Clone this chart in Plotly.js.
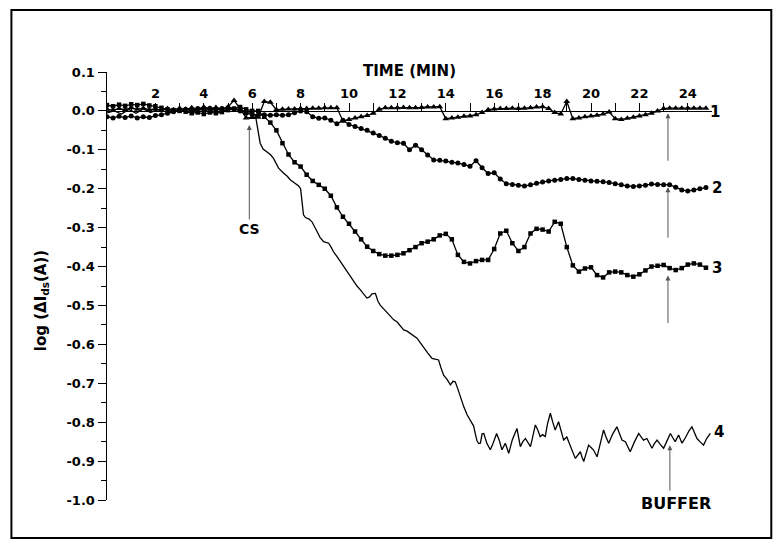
<!DOCTYPE html>
<html>
<head>
<meta charset="utf-8">
<script src="https://cdn.plot.ly/plotly-3.0.1.min.js"></script>
<style>html,body{margin:0;padding:0;background:#fff;}#chart{width:779px;height:550px;}</style>
</head>
<body>
<div id="chart"></div>
<script>
// Shared sampling time (min) for marker series 1-3
const time = [0,0.25,0.5,0.75,1,1.25,1.5,1.75,2,2.25,2.5,2.75,3,3.25,3.5,3.75,4,4.25,4.5,4.75,
  5,5.25,5.5,5.75,6,6.25,6.5,6.75,7,7.25,7.5,7.75,8,8.25,8.5,8.75,9,9.25,9.5,9.75,
  10,10.25,10.5,10.75,11,11.25,11.5,11.75,12,12.25,12.5,12.75,13,13.25,13.5,13.75,14,14.25,14.5,14.75,
  15,15.25,15.5,15.75,16,16.25,16.5,16.75,17,17.25,17.5,17.75,18,18.25,18.5,18.75,19,19.25,19.5,19.75,
  20,20.25,20.5,20.75,21,21.25,21.5,21.75,22,22.25,22.5,22.75,23,23.25,23.5,23.75,24,24.25,24.5,24.75];

// Curve 1 (triangles)
const curve1 = [0.004,0.002,0.006,0.003,0.008,0.004,0.007,0.003,0.005,0.002,0.006,0.003,0.007,0.004,0.008,0.005,0.010,0.006,0.009,0.005,
  0.010,0.027,0.005,-0.018,-0.017,-0.016,0.024,0.022,0.003,0.004,0.005,0.005,0.006,0.006,0.007,0.007,0.008,0.008,0.008,-0.026,
  -0.022,-0.018,-0.015,-0.012,-0.006,0.004,0.008,0.008,0.008,0.009,0.008,0.008,0.009,0.010,0.010,0.011,-0.020,-0.018,-0.016,-0.014,
  -0.013,-0.010,-0.004,0.003,0.005,0.006,0.006,0.007,0.006,0.007,0.008,0.010,0.011,0.006,-0.004,-0.008,0.024,-0.020,-0.018,-0.015,
  -0.013,-0.011,-0.008,-0.003,-0.020,-0.022,-0.019,-0.016,-0.013,-0.010,-0.006,0.000,0.006,0.007,0.007,0.007,0.007,0.007,0.007,0.007];

// Curve 2 (circles)
const curve2 = [-0.015,-0.018,-0.014,-0.017,-0.013,-0.018,-0.015,-0.017,-0.012,-0.010,-0.006,-0.002,0.002,0.004,0.002,0.006,0.003,0.007,0.004,0.006,
  0.008,0.005,0.000,-0.006,-0.010,-0.011,-0.010,-0.011,-0.010,-0.011,-0.010,-0.005,0.000,-0.002,-0.015,-0.019,-0.018,-0.024,-0.033,-0.024,
  -0.035,-0.040,-0.045,-0.050,-0.057,-0.063,-0.070,-0.078,-0.082,-0.083,-0.100,-0.088,-0.100,-0.113,-0.126,-0.127,-0.129,-0.132,-0.134,-0.138,
  -0.142,-0.128,-0.146,-0.161,-0.159,-0.175,-0.187,-0.189,-0.191,-0.193,-0.190,-0.186,-0.183,-0.180,-0.178,-0.176,-0.174,-0.174,-0.176,-0.178,
  -0.180,-0.181,-0.182,-0.184,-0.187,-0.190,-0.193,-0.194,-0.193,-0.191,-0.188,-0.189,-0.190,-0.190,-0.196,-0.203,-0.206,-0.203,-0.200,-0.197];

// Curve 3 (squares)
const curve3 = [0.015,0.012,0.016,0.013,0.017,0.015,0.018,0.014,0.012,0.008,0.004,0.002,0.000,-0.002,-0.006,-0.004,-0.008,-0.004,-0.006,-0.003,
  0.002,0.006,0.010,0.004,0.000,0.000,-0.015,-0.030,-0.050,-0.083,-0.112,-0.132,-0.143,-0.164,-0.180,-0.190,-0.200,-0.218,-0.248,-0.272,
  -0.290,-0.310,-0.330,-0.349,-0.360,-0.368,-0.372,-0.372,-0.370,-0.366,-0.358,-0.350,-0.340,-0.336,-0.330,-0.320,-0.316,-0.330,-0.370,-0.388,
  -0.392,-0.386,-0.383,-0.383,-0.355,-0.315,-0.308,-0.340,-0.360,-0.350,-0.315,-0.303,-0.305,-0.310,-0.285,-0.290,-0.350,-0.397,-0.413,-0.405,
  -0.402,-0.422,-0.428,-0.415,-0.413,-0.415,-0.422,-0.426,-0.420,-0.410,-0.400,-0.398,-0.396,-0.404,-0.409,-0.404,-0.395,-0.392,-0.395,-0.403];

// Curve 4 (plain line)
const time4 = [0,0.3,0.6,0.9,1.2,1.5,1.8,2.1,2.4,2.7,3.0,3.3,3.6,3.9,4.2,4.5,4.8,5.1,5.4,5.7,6.0,6.13,6.2,6.33,6.45,6.61,6.75,6.88,7.0,7.09,
  7.3,7.45,7.57,7.75,7.92,8.0,8.06,8.12,8.2,8.26,8.35,8.47,8.58,8.68,8.8,8.95,9.05,9.16,9.26,9.36,9.5,9.64,9.78,9.92,10.05,10.19,10.33,10.47,10.6,10.74,
  10.85,10.95,11.09,11.2,11.29,11.5,11.7,11.85,11.98,12.1,12.26,12.4,12.53,12.67,12.81,12.95,13.08,13.25,13.43,13.55,13.7,13.8,13.91,14.05,14.19,14.3,14.39,14.5,14.6,14.74,
  14.88,15.0,15.08,15.15,15.22,15.29,15.36,15.43,15.5,15.57,15.7,15.84,15.95,16.1,16.2,16.32,16.46,16.6,16.75,16.94,17.08,17.18,17.29,17.4,17.5,17.6,17.7,17.8,17.9,18.0,
  18.11,18.2,18.32,18.42,18.52,18.66,18.77,18.87,19.0,19.15,19.25,19.35,19.45,19.56,19.63,19.7,19.8,19.9,20.0,20.1,20.25,20.38,20.52,20.62,20.73,20.9,21.07,21.18,21.28,21.42,
  21.52,21.62,21.8,21.97,22.07,22.17,22.31,22.42,22.52,22.62,22.73,22.86,23.0,23.14,23.28,23.38,23.48,23.62,23.76,23.9,24.05,24.17,24.28,24.38,24.5,24.65,24.78,24.93];
const curve4 = [-0.005,0.000,-0.008,0.004,-0.006,0.005,-0.004,0.003,-0.002,0.004,-0.003,0.005,0.000,0.006,-0.002,0.005,0.000,0.008,0.004,0.000,-0.005,-0.010,-0.040,-0.083,-0.098,-0.105,-0.112,-0.122,-0.135,-0.147,
  -0.160,-0.168,-0.177,-0.185,-0.193,-0.200,-0.229,-0.267,-0.274,-0.276,-0.278,-0.285,-0.300,-0.310,-0.325,-0.336,-0.338,-0.340,-0.350,-0.362,-0.374,-0.387,-0.400,-0.413,-0.426,-0.439,-0.450,-0.460,-0.470,-0.481,
  -0.478,-0.470,-0.469,-0.490,-0.499,-0.514,-0.529,-0.537,-0.542,-0.550,-0.563,-0.566,-0.571,-0.577,-0.584,-0.596,-0.606,-0.622,-0.636,-0.638,-0.640,-0.660,-0.679,-0.690,-0.704,-0.695,-0.696,-0.715,-0.734,-0.760,
  -0.781,-0.795,-0.803,-0.810,-0.830,-0.848,-0.855,-0.854,-0.830,-0.829,-0.855,-0.871,-0.855,-0.829,-0.845,-0.871,-0.854,-0.880,-0.845,-0.816,-0.863,-0.850,-0.842,-0.855,-0.863,-0.835,-0.807,-0.820,-0.837,-0.832,
  -0.837,-0.805,-0.777,-0.800,-0.820,-0.799,-0.825,-0.846,-0.838,-0.863,-0.878,-0.893,-0.885,-0.876,-0.890,-0.901,-0.880,-0.859,-0.865,-0.871,-0.889,-0.855,-0.820,-0.838,-0.854,-0.830,-0.812,-0.830,-0.846,-0.850,
  -0.865,-0.876,-0.850,-0.829,-0.838,-0.846,-0.842,-0.855,-0.867,-0.855,-0.846,-0.857,-0.867,-0.848,-0.829,-0.840,-0.850,-0.833,-0.854,-0.840,-0.822,-0.812,-0.830,-0.842,-0.850,-0.859,-0.842,-0.829];

// Axis ticks
const xTickVals = [1,2,3,4,5,6,7,8,9,10,11,12,13,14,15,16,17,18,19,20,21,22,23,24];
const xTickText = ['','2','','4','','6','','8','','10','','12','','14','','16','','18','','20','','22','','24'];
const yTickVals = [0.1,0,-0.1,-0.2,-0.3,-0.4,-0.5,-0.6,-0.7,-0.8,-0.9,-1.0];
const yTickText = ['0.1','0.0','-0.1','-0.2','-0.3','-0.4','-0.5','-0.6','-0.7','-0.8','-0.9','-1.0'];
const yMinorVals = [0.05,-0.05,-0.15,-0.25,-0.35,-0.45,-0.55,-0.65,-0.75,-0.85,-0.95];

// Curve labels (y in data units, x as fraction of plot width) and arrows (data coordinates)
const curveNames = ['1','2','3','4'];
const curveLabelX = [1.0055,1.0075,1.0075,1.0115];
const curveLabelY = [-0.002,-0.199,-0.404,-0.824];
const arrowX = [23.18,23.18,23.18,23.26];
const arrowY = [-0.006,-0.196,-0.423,-0.859];
const arrowLen = [49,52,49,47];

const FONT = 'DejaVu Sans, Liberation Sans, Arial, sans-serif';
const line = {color:'#000', width:1.3};

const traces = [
  {x: time, y: curve1, mode:'lines+markers', name:'1', line: line,
   marker:{symbol:'triangle-up', size:6, color:'#000'}},
  {x: time, y: curve2, mode:'lines+markers', name:'2', line: line,
   marker:{symbol:'circle', size:5, color:'#000'}},
  {x: time, y: curve3, mode:'lines+markers', name:'3', line: line,
   marker:{symbol:'square', size:4.5, color:'#000'}},
  {x: time4, y: curve4, mode:'lines', name:'4', line: line}
];

const annotations = [];
curveNames.forEach((n,i) => annotations.push({
  x: curveLabelX[i], y: curveLabelY[i], xref:'paper', yref:'y', text: n, showarrow:false,
  font:{family:FONT, size:15, color:'#000', weight:'bold'}, xanchor:'center', yanchor:'middle'
}));
arrowX.forEach((ax,i) => annotations.push({
  x: ax, y: arrowY[i], xref:'x', yref:'y', text:'', showarrow:true, ax:0, ay: arrowLen[i],
  arrowhead:2, arrowsize:1, arrowwidth:1, arrowcolor:'#555'
}));
annotations.push({x:5.88, y:-0.036, xref:'x', yref:'y', text:'CS', showarrow:true, ax:0, ay:104,
  arrowhead:2, arrowsize:1, arrowwidth:1, arrowcolor:'#555',
  font:{family:FONT, size:14, color:'#000', weight:'bold'}});
annotations.push({x:23.5, y:-1.0, xref:'x', yref:'y', text:'BUFFER', showarrow:false, yshift:-3,
  font:{family:FONT, size:16, color:'#000', weight:'bold'}, xanchor:'center', yanchor:'middle'});
annotations.push({x:-0.107, y:0.465, xref:'paper', yref:'paper', text:'log (ΔI<sub>ds</sub>(A))',
  showarrow:false, textangle:-90, xanchor:'center', yanchor:'middle',
  font:{family:FONT, size:15, color:'#000', weight:'bold'}});

const layout = {
  width:779, height:550,
  margin:{l:107, r:67, t:72, b:50},
  paper_bgcolor:'#fff', plot_bgcolor:'#fff',
  showlegend:false,
  font:{family:FONT, color:'#000'},
  xaxis:{
    range:[0,25], anchor:'free', position:1/1.1, side:'top',
    tickmode:'array', tickvals:xTickVals, ticktext:xTickText,
    ticks:'outside', ticklen:8, tickwidth:1, tickcolor:'#000',
    showline:true, linecolor:'#000', linewidth:1.5,
    showgrid:false, zeroline:false,
    tickfont:{family:FONT, size:13, weight:'bold', color:'#000'},
    title:{text:'TIME (MIN)', font:{family:FONT, size:15, weight:'bold', color:'#000'}, standoff:4}
  },
  yaxis:{
    range:[-1.0,0.1], tickmode:'array', tickvals:yTickVals, ticktext:yTickText,
    ticks:'outside', ticklen:8, tickwidth:1, tickcolor:'#000',
    minor:{tickmode:'array', tickvals:yMinorVals, ticks:'outside', ticklen:5, tickwidth:1, tickcolor:'#000'},
    showline:true, linecolor:'#000', linewidth:1.5,
    showgrid:false, zeroline:false,
    tickfont:{family:FONT, size:13, weight:'bold', color:'#000'}
  },
  shapes:[{type:'rect', xref:'paper', yref:'paper', x0:-0.158, x1:1.098, y0:-0.0888, y1:1.145,
    line:{color:'#000', width:2}}],
  annotations: annotations
};

Plotly.newPlot('chart', traces, layout, {displayModeBar:false, staticPlot:true});
</script>
</body>
</html>
